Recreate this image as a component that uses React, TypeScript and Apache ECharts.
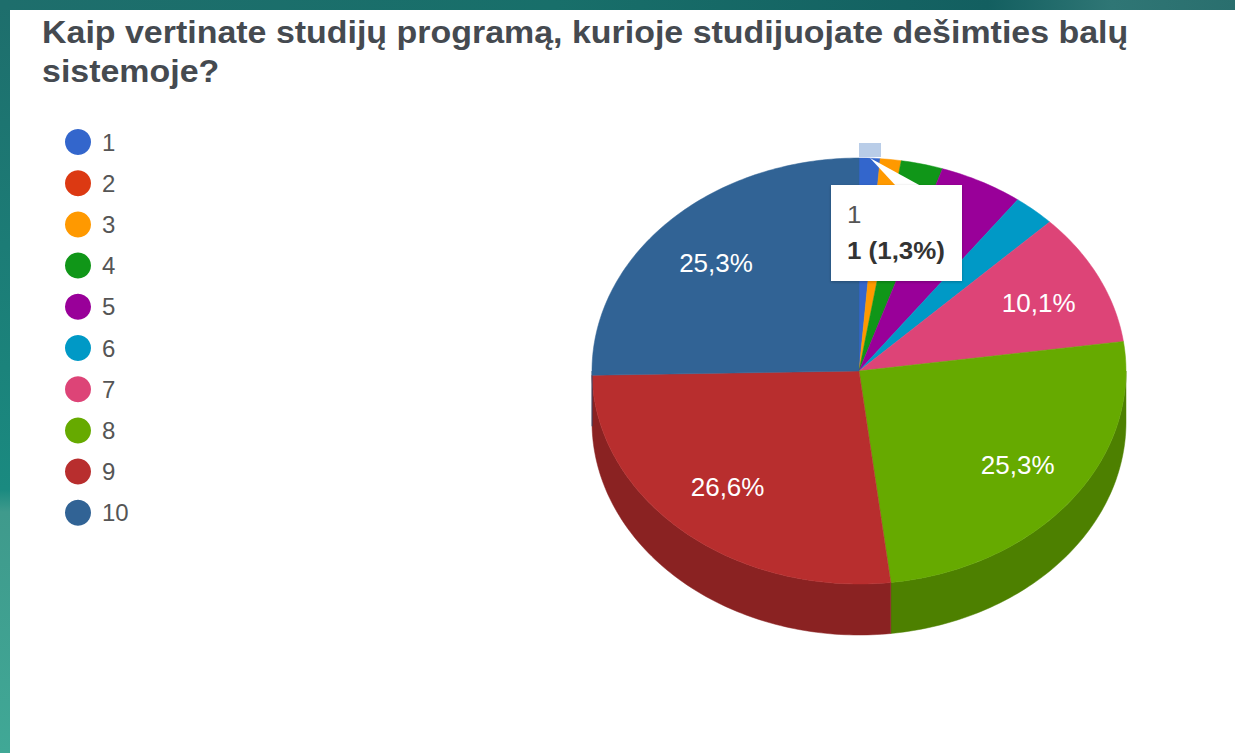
import React, { useEffect, useRef } from "react";
import * as echarts from "echarts";

const titleLines = ["Kaip vertinate studijų programą, kurioje studijuojate dešimties balų", "sistemoje?"];
const categories = ["1", "2", "3", "4", "5", "6", "7", "8", "9", "10"];
const counts = [1, 0, 1, 2, 4, 2, 8, 20, 21, 20];
const colors = ["#3366cc", "#dc3912", "#ff9900", "#109618", "#990099", "#0099c6", "#dd4477", "#66aa00", "#b82e2e", "#316395"];
const wallColors = ["#264d99", "#a52b0e", "#bf7300", "#0c7112", "#730073", "#007395", "#a63359", "#4d8000", "#8a2222", "#254a70"];
const tooltipLines = ["1", "1 (1,3%)"];

const CX = 859, CY = 371, RX = 267, RY = 213, DEPTH = 51;
const total = counts.reduce((a, b) => a + b, 0);
const pt = (deg: number, dy = 0, k = 1, ky = k): [number, number] => {
  const t = (deg * Math.PI) / 180;
  return [CX + RX * k * Math.sin(t), CY + dy - RY * ky * Math.cos(t)];
};
const arc = (a0: number, a1: number, dy = 0): [number, number][] => {
  const n = Math.max(2, Math.ceil(Math.abs(a1 - a0)));
  const out: [number, number][] = [];
  for (let i = 0; i <= n; i++) out.push(pt(a0 + ((a1 - a0) * i) / n, dy));
  return out;
};

const renderSlice = (index: number) => (_params: any, api: any) => {
  const value = api.value(0);
  if (!value) return { type: "group", children: [] };
  const before = counts.slice(0, index).reduce((a, b) => a + b, 0);
  const a0 = (before / total) * 360;
  const a1 = ((before + value) / total) * 360;
  const children: any[] = [];
  const w0 = Math.max(a0, 90), w1 = Math.min(a1, 270);
  if (w1 > w0) {
    children.push({
      type: "polygon",
      shape: { points: [...arc(w0, w1), ...arc(w1, w0, DEPTH)] },
      style: { fill: wallColors[index], stroke: wallColors[index], lineWidth: 0.5 },
    });
  }
  children.push({
    type: "polygon",
    shape: { points: [[CX, CY], ...arc(a0, a1)] },
    style: { fill: colors[index], stroke: colors[index], lineWidth: 0.5 },
  });
  const share = (value / total) * 100;
  if (share >= 10) {
    const [lx, ly] = pt((a0 + a1) / 2, 0, 0.75, 0.725);
    children.push({
      type: "text",
      x: lx, y: ly, scaleX: 1.04,
      style: {
        text: share.toFixed(1).replace(".", ",") + "%",
        fill: "#ffffff", fontSize: 25, fontFamily: "Liberation Sans",
        align: "center", verticalAlign: "middle",
      },
    });
  }
  return { type: "group", children };
};

export default function App() {
  const ref = useRef<HTMLDivElement>(null);
  useEffect(() => {
    const chart = echarts.init(ref.current!, undefined, { renderer: "svg" });
    chart.setOption({
      animation: false,
      backgroundColor: "transparent",
      legend: {
        orient: "vertical", left: 60, top: 124,
        icon: "circle", itemWidth: 26, itemHeight: 26, itemGap: 15.2,
        data: categories,
        selectedMode: false,
        textStyle: { fontSize: 24, color: "#555555", fontFamily: "Liberation Sans", padding: [0, 0, 0, 6] },
      },
      series: categories.map((name, i) => ({
        type: "custom",
        name,
        coordinateSystem: "none",
        silent: true,
        clip: false,
        color: colors[i],
        data: [[counts[i]]],
        renderItem: renderSlice(i),
      })),
      graphic: [
        ...titleLines.map((text, i) => ({
          type: "text", x: 42, y: 33 + i * 39, scaleX: 1.095, z: 10,
          style: { text, fill: "#454a50", fontSize: 31, fontWeight: "bold", fontFamily: "Liberation Sans", verticalAlign: "middle" },
        })),
        { type: "rect", shape: { x: 859, y: 143, width: 22, height: 14 }, z: 10, style: { fill: "#b9cde8" } },
        { type: "polygon", shape: { points: [[870, 158], [921, 186], [896, 186]] }, z: 20, style: { fill: "#ffffff" } },
        {
          type: "rect", shape: { x: 831, y: 185, width: 131, height: 96 }, z: 20,
          style: { fill: "#ffffff", shadowColor: "rgba(0,0,0,0.25)", shadowBlur: 3, shadowOffsetY: 1 },
        },
        {
          type: "text", x: 847, y: 214, scaleX: 1.08, z: 21,
          style: { text: tooltipLines[0], fill: "#555555", fontSize: 24, fontFamily: "Liberation Sans", verticalAlign: "middle" },
        },
        {
          type: "text", x: 847, y: 250, scaleX: 1.08, z: 21,
          style: { text: tooltipLines[1], fill: "#333333", fontSize: 24, fontWeight: "bold", fontFamily: "Liberation Sans", verticalAlign: "middle" },
        },
      ],
    });
    return () => chart.dispose();
  }, []);
  return (
    <div
      style={{
        position: "fixed", left: 0, top: 0, width: 1235, height: 753,
        background: "linear-gradient(180deg, #1e6e6c 0%, #1a8a80 65%, #3f9a8c 68%, #40a896 100%)",
      }}
    >
      <div
        style={{
          position: "absolute", left: 0, top: 0, width: 1235, height: 10,
          background: "linear-gradient(90deg, #1e6e6c 0%, #186f6a 45%, #135f60 80%, #2f7675 90%, #2a6f6e 100%)",
        }}
      />
      <div style={{ position: "absolute", left: 10, top: 10, width: 1225, height: 743, background: "#ffffff" }} />
      <div ref={ref} style={{ position: "absolute", left: 0, top: 0, width: 1235, height: 753 }} />
    </div>
  );
}
